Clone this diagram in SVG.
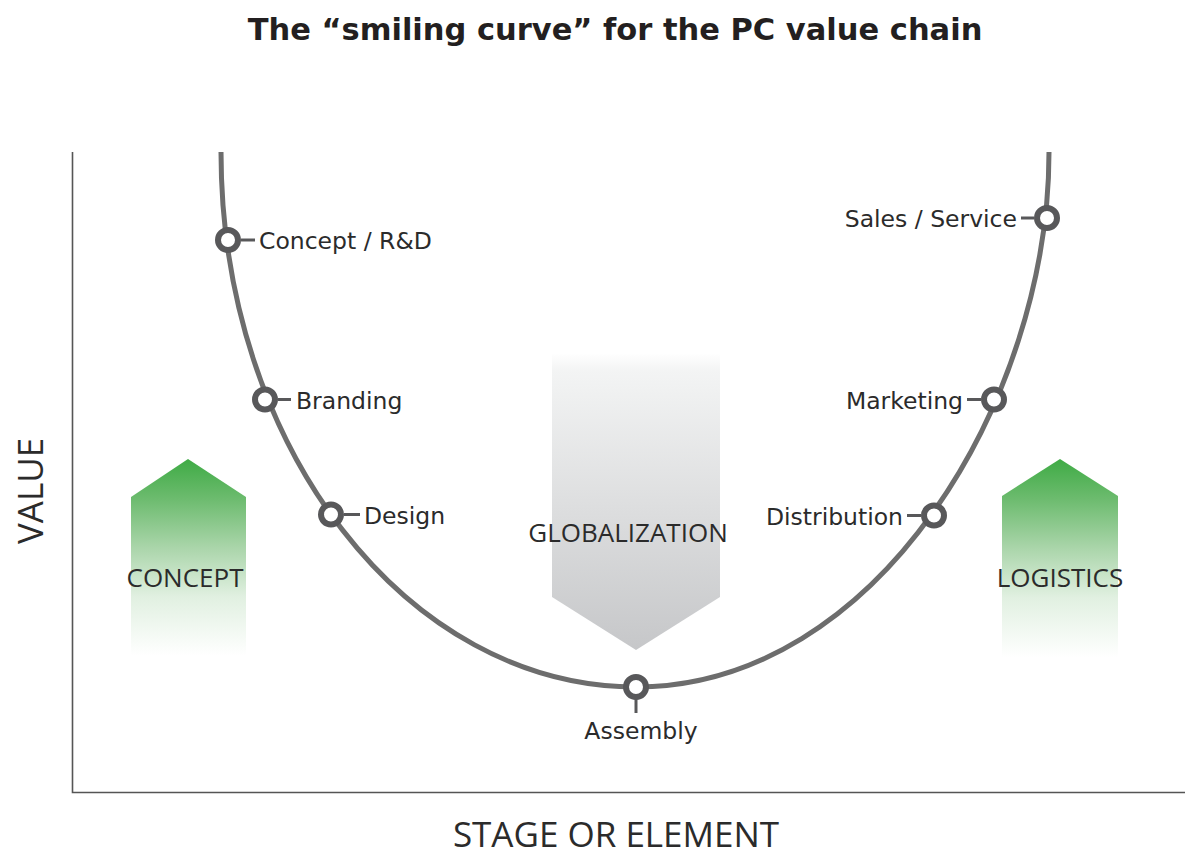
<svg xmlns="http://www.w3.org/2000/svg" width="1185" height="855" viewBox="0 0 1185 855">
<style>
.title{font-family:"DejaVu Sans","Liberation Sans",sans-serif;font-weight:bold;font-size:30.5px;fill:#231f20}
.lbl{font-family:"DejaVu Sans","Liberation Sans",sans-serif;font-size:23.5px;fill:#2b2b2b}
.cap{font-family:"Open Sans","Liberation Sans",sans-serif;font-size:26px;fill:#2b2b2b}
.axt{font-family:"Open Sans","Liberation Sans",sans-serif;font-size:35px;fill:#2b2b2b}
.axis{stroke:#555;stroke-width:1.6;fill:none}
.curve{stroke:#6d6d6d;stroke-width:5;fill:none}
.node{fill:#fff;stroke:#58585a;stroke-width:6}
.tick{stroke:#58585a;stroke-width:3}
</style>
<defs>
<linearGradient id="gGreen" x1="0" y1="0" x2="0" y2="1">
<stop offset="0" stop-color="#3fab45"/>
<stop offset="0.2" stop-color="#6cbb6e"/>
<stop offset="0.45" stop-color="#aad5aa"/>
<stop offset="0.7" stop-color="#e1f0e1"/>
<stop offset="1" stop-color="#ffffff"/>
</linearGradient>
<linearGradient id="gGray" x1="0" y1="0" x2="0" y2="1">
<stop offset="0" stop-color="#ffffff"/>
<stop offset="0.06" stop-color="#f3f4f4"/>
<stop offset="1" stop-color="#c6c7c9"/>
</linearGradient>
</defs>
<rect width="1185" height="855" fill="#fff"/>
<text class="title" x="615" y="40" text-anchor="middle">The “smiling curve” for the PC value chain</text>
<g id="axes">
<path class="axis" d="M72.5,152 V792.5 H1185"/>
<text class="axt" transform="translate(43,491) rotate(-90)" text-anchor="middle">VALUE</text>
<text class="axt" x="616" y="847" text-anchor="middle">STAGE OR ELEMENT</text>
</g>
<g id="concept">
<polygon points="131,497 188,459 246,497 246,656 131,656" fill="url(#gGreen)"/>
<text class="cap" x="185" y="587" text-anchor="middle">CONCEPT</text>
</g>
<g id="logistics">
<polygon points="1002,496 1060,459 1118,496 1118,657 1002,657" fill="url(#gGreen)"/>
<text class="cap" x="1060" y="587" text-anchor="middle">LOGISTICS</text>
</g>
<g id="globalization">
<polygon points="552,353 720,353 720,597 636,650 552,597" fill="url(#gGray)"/>
<text class="cap" x="628" y="542" text-anchor="middle">GLOBALIZATION</text>
</g>
<g id="connectors">
<path class="curve" d="M221,152 C221,447 407,687 636,687 C876,687 1049,402 1049,152"/>
</g>
<g id="concept-rd">
<line class="tick" x1="241" y1="240" x2="255" y2="240"/>
<circle class="node" cx="228" cy="240" r="10"/>
<text class="lbl" x="259" y="249">Concept / R&amp;D</text>
</g>
<g id="branding">
<line class="tick" x1="278" y1="399.5" x2="291" y2="399.5"/>
<circle class="node" cx="265" cy="399.5" r="10"/>
<text class="lbl" x="296" y="408.5">Branding</text>
</g>
<g id="design">
<line class="tick" x1="344" y1="514.5" x2="360" y2="514.5"/>
<circle class="node" cx="331" cy="514.5" r="10"/>
<text class="lbl" x="364" y="523.5">Design</text>
</g>
<g id="assembly">
<line class="tick" x1="636" y1="698" x2="636" y2="713"/>
<circle class="node" cx="636" cy="687" r="10"/>
<text class="lbl" x="641" y="739" text-anchor="middle">Assembly</text>
</g>
<g id="distribution">
<line class="tick" x1="907" y1="515.5" x2="921" y2="515.5"/>
<circle class="node" cx="934" cy="515.5" r="10"/>
<text class="lbl" x="903" y="524.5" text-anchor="end">Distribution</text>
</g>
<g id="marketing">
<line class="tick" x1="967" y1="399.5" x2="981" y2="399.5"/>
<circle class="node" cx="994" cy="399.5" r="10"/>
<text class="lbl" x="963" y="408.5" text-anchor="end">Marketing</text>
</g>
<g id="sales">
<line class="tick" x1="1021" y1="218" x2="1034" y2="218"/>
<circle class="node" cx="1047" cy="218" r="10"/>
<text class="lbl" x="1017" y="227" text-anchor="end">Sales / Service</text>
</g>
</svg>
